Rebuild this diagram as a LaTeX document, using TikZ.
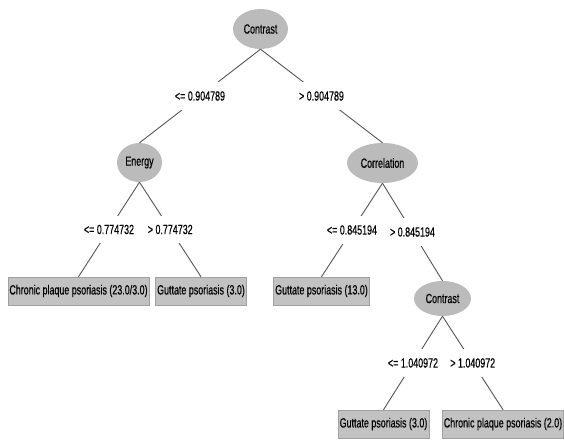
\documentclass[tikz,border=0pt]{standalone}
\usepackage{fontspec}
\setmainfont{Liberation Sans}
\newfontfamily\treeface{Liberation Sans}[FakeBold=0.6]
\usepackage{graphicx}
\usetikzlibrary{shapes.geometric}
\newcommand{\tx}[1]{\scalebox{0.67}[1]{#1}}
\definecolor{nodegray}{HTML}{BBBBBB}
\definecolor{leafgray}{HTML}{C2C2C2}
\definecolor{leafedge}{HTML}{A0A0A0}
\definecolor{edgecol}{HTML}{555555}
\begin{document}
\begin{tikzpicture}[x=1pt,y=-1pt,
  treefont/.style={font=\treeface\fontsize{13.3}{15}\selectfont},
  inode/.style={ellipse, fill=nodegray, inner sep=0pt, treefont},
  leaf/.style={rectangle, fill=leafgray, draw=leafedge, line width=0.5pt,
    minimum height=28pt, inner xsep=1.5pt, inner ysep=0pt, treefont},
  edge/.style={draw=edgecol, line width=0.9pt},
  lbl/.style={fill=white, inner xsep=3pt, inner ysep=9pt, treefont}]
\useasboundingbox (0,0) rectangle (564,439);
\clip (0,0) rectangle (564,439);
\node[inode, minimum width=55pt, minimum height=40pt] (root) at (260.5,29) {\tx{Contrast}};
\node[inode, minimum width=45pt, minimum height=39pt] (energy) at (139.5,162.5) {\tx{Energy}};
\node[inode, minimum width=71pt, minimum height=40pt] (corr) at (382.5,163) {\tx{Correlation}};
\node[inode, minimum width=57pt, minimum height=35pt] (contr2) at (442.5,298.5) {\tx{Contrast}};
\node[leaf] (l1) at (78.5,291) {\tx{Chronic plaque psoriasis (23.0/3.0)}};
\node[leaf] (l2) at (201,291) {\tx{Guttate psoriasis (3.0)}};
\node[leaf] (l3) at (321.5,291) {\tx{Guttate psoriasis (13.0)}};
\node[leaf] (l4) at (383.5,424) {\tx{Guttate psoriasis (3.0)}};
\node[leaf] (l5) at (503,424) {\tx{Chronic plaque psoriasis (2.0)}};
\draw[edge] (root.south) -- node[lbl]{\tx{<= 0.904789}} (energy.north);
\draw[edge] (root.south) -- node[lbl]{\tx{> 0.904789}} (corr.north);
\draw[edge] (energy.south) -- node[lbl]{\tx{<= 0.774732}} (l1.north);
\draw[edge] (energy.south) -- node[lbl]{\tx{> 0.774732}} (l2.north);
\draw[edge] (corr.south) -- node[lbl]{\tx{<= 0.845194}} (l3.north);
\draw[edge] (corr.south) -- node[lbl]{\tx{> 0.845194}} (contr2.north);
\draw[edge] (contr2.south) -- node[lbl]{\tx{<= 1.040972}} (l4.north);
\draw[edge] (contr2.south) -- node[lbl]{\tx{> 1.040972}} (l5.north);
\end{tikzpicture}
\end{document}
